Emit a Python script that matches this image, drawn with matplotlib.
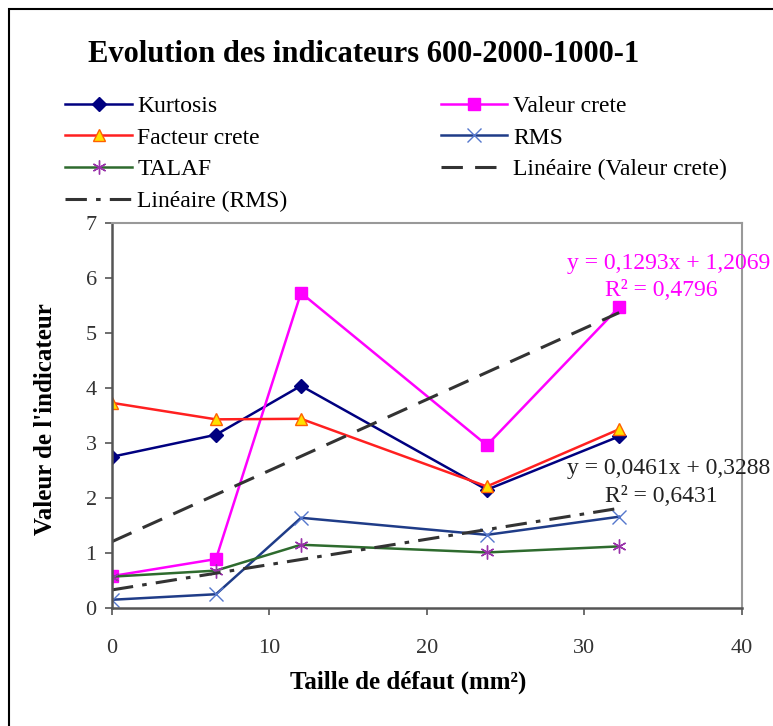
import numpy as np
import matplotlib
matplotlib.use("Agg")
import matplotlib.pyplot as plt
from matplotlib.patches import Rectangle

# === Data ===
taille = [0, 6.6, 12.0, 23.8, 32.2]
kurtosis = [2.75, 3.15, 4.04, 2.15, 3.12]
valeur_crete = [0.58, 0.89, 5.73, 2.96, 5.47]
facteur_crete = [3.73, 3.43, 3.44, 2.21, 3.25]
rms = [0.15, 0.25, 1.64, 1.33, 1.66]
talaf = [0.57, 0.68, 1.15, 1.01, 1.12]

# trend lines (coefficients printed on the chart)
fit_valeur = (0.1293, 1.2069)
fit_rms = (0.0461, 0.3288)
eq_valeur = ["y = 0,1293x + 1,2069", "R² = 0,4796"]
eq_rms = ["y = 0,0461x + 0,3288", "R² = 0,6431"]

plt.rcParams['font.family'] = ['Liberation Serif', 'DejaVu Serif']

W, H = 773, 726
fig = plt.figure(figsize=(W / 100, H / 100), dpi=100)
ax = fig.add_axes([112 / W, 1 - 608 / H, (742 - 112) / W, (608 - 223) / H])

# outer frame
fig.patches.append(Rectangle((9 / W, -0.05), 1.2, 1 - 9 / H + 0.05,
                             transform=fig.transFigure, fill=False,
                             edgecolor='black', linewidth=1.5))

x = np.array(taille)
xfit = np.array([x.min(), x.max()])

h_kurt, = ax.plot(x, kurtosis, color='#000080', linewidth=1.8, marker='D',
                  markersize=7, markerfacecolor='#000080', markeredgecolor='#000080',
                  label='Kurtosis')
h_val, = ax.plot(x, valeur_crete, color='#FF00FF', linewidth=1.8, marker='s',
                 markersize=9, markerfacecolor='#FF00FF', markeredgecolor='#FF00FF',
                 label='Valeur crete')
h_fac, = ax.plot(x, facteur_crete, color='#FF2020', linewidth=1.8, marker='^',
                 markersize=9, markerfacecolor='#FFE000', markeredgecolor='#FF6000',
                 label='Facteur crete')
h_rms, = ax.plot(x, rms, color='#1F3C88', linewidth=1.8, marker='x',
                 markersize=10, markeredgecolor='#5577CC', markeredgewidth=1.0,
                 label='RMS')
h_tal, = ax.plot(x, talaf, color='#2E6B2E', linewidth=1.8, marker=(6, 2, 0),
                 markersize=10, markeredgecolor='#9933AA', markeredgewidth=1.0,
                 label='TALAF')
h_lv, = ax.plot(xfit, fit_valeur[0] * xfit + fit_valeur[1], color='#333333',
                linewidth=2.2, dashes=(7, 4), label='Linéaire (Valeur crete)')
h_lr, = ax.plot(xfit, fit_rms[0] * xfit + fit_rms[1], color='#333333',
                linewidth=2.2, dashes=(7, 3, 1.5, 3), label='Linéaire (RMS)')

# equations
ax.text(41.8, 6.27, eq_valeur[0], color='#FF00FF', fontsize=17, ha='right',
        va='center', clip_on=False)
ax.text(34.9, 5.78, eq_valeur[1], color='#FF00FF', fontsize=17, ha='center',
        va='center', clip_on=False)
ax.text(41.8, 2.54, eq_rms[0], color='#222222', fontsize=17, ha='right',
        va='center', clip_on=False)
ax.text(34.9, 2.03, eq_rms[1], color='#222222', fontsize=17, ha='center',
        va='center', clip_on=False)

ax.set_xlim(0, 40)
ax.set_ylim(0, 7)
ax.set_xticks(range(0, 41, 10))
ax.set_yticks(range(0, 8))
ax.tick_params(axis='both', direction='out', length=5, width=1.2,
               colors='#555555', labelcolor='#333333', labelsize=16, pad=6)
ax.tick_params(axis='x', pad=17)
for side in ['left', 'bottom']:
    ax.spines[side].set_color('#555555')
    ax.spines[side].set_linewidth(1.8)
for side in ['top', 'right']:
    ax.spines[side].set_color('#999999')
    ax.spines[side].set_linewidth(1.5)

ax.set_xlabel('Taille de défaut (mm²)', fontsize=18, fontweight='bold')
ax.set_ylabel("Valeur de l'indicateur", fontsize=18, fontweight='bold')
ax.xaxis.set_label_coords((408 - 112) / 630, -(682 - 608) / 385)
ax.yaxis.set_label_coords(-(112 - 46) / 630, 0.49)
ax.xaxis.label.set_va('center')
ax.yaxis.label.set_va('center')

fig.text(88 / W, 1 - 55 / H, 'Evolution des indicateurs 600-2000-1000-1',
         fontsize=22, fontweight='bold', ha='left', va='center')

handles = [h_kurt, h_val, h_fac, h_rms, h_tal, h_lv, h_lr]
order = [0, 2, 4, 6, 1, 3, 5]
fig.legend([handles[i] for i in order], [handles[i].get_label() for i in order],
           ncol=2, loc='upper left', bbox_to_anchor=(56 / W, 1 - 86 / H),
           frameon=False, fontsize=17, handlelength=2.8, handletextpad=0.25,
           columnspacing=6.5, labelspacing=0.43, borderaxespad=0)

fig.savefig('out.png', dpi=100)
